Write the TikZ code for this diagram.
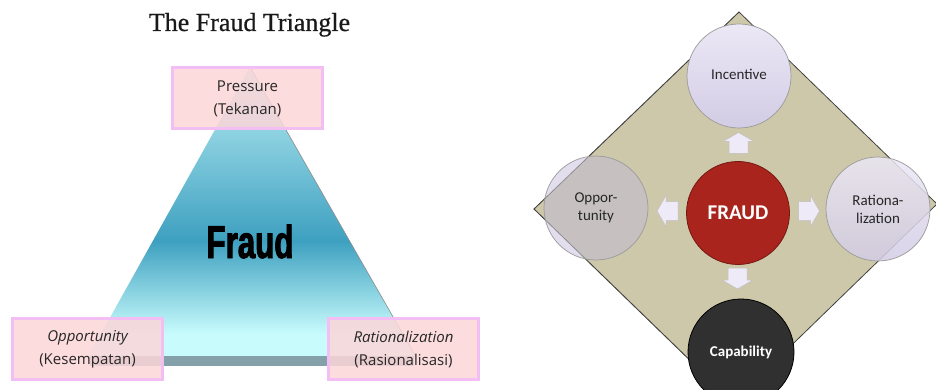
\documentclass[tikz,border=0pt]{standalone}
\usepackage{fontspec}
\usepackage{graphicx}
\setmainfont{Liberation Serif}
\newfontfamily\titlefont{Liberation Serif}[FakeBold=0.6]
\newfontfamily\osans{Open Sans}
\newfontfamily\carl{Carlito}
\newfontfamily\heavy{Liberation Sans}[FakeStretch=0.68, FakeBold=2]
\definecolor{boxfill}{RGB}{252,214,216}
\definecolor{boxedge}{RGB}{242,190,244}
\definecolor{tritop}{RGB}{176,232,240}
\definecolor{trimid}{RGB}{62,160,192}
\definecolor{tribot}{RGB}{200,252,252}
\definecolor{basebar}{RGB}{132,160,168}
\definecolor{khaki}{RGB}{206,200,170}
\definecolor{lavtop}{RGB}{236,232,246}
\definecolor{lavbot}{RGB}{210,204,228}
\definecolor{lavout}{RGB}{226,222,238}
\definecolor{oppgray}{RGB}{198,192,192}
\definecolor{fraudred}{RGB}{168,36,28}
\definecolor{capgray}{RGB}{48,48,48}
\definecolor{arrowfill}{RGB}{238,234,248}
\pgfdeclareverticalshading{trishade}{100bp}{color(0bp)=(tribot); color(25bp)=(tribot); color(29bp)=(tribot); color(45bp)=(trimid); color(72bp)=(tritop); color(75bp)=(tritop); color(100bp)=(tritop)}
\begin{document}
\begin{tikzpicture}[x=1pt,y=-1pt,
  labelbox/.style={draw=boxedge, line width=3pt, fill=boxfill, fill opacity=0.85, text opacity=1,
    minimum width=150pt, minimum height=61pt, inner sep=0pt, align=center, text=black!85,
    font=\osans\fontsize{15}{23}\selectfont},
  lavcirc/.style={circle, minimum size=104pt, inner sep=0pt, draw=black!40, line width=0.7pt,
    align=center, font=\carl\fontsize{15}{18}\selectfont, text=black!85},
  barrowsty/.style={fill=arrowfill, draw=black!25, line width=0.5pt},
  pics/barrow/.style={code={\path[barrowsty] (-10.5,-9.5) -- (1.5,-9.5) -- (1.5,-15.5) -- (10.5,0) -- (1.5,15.5) -- (1.5,9.5) -- (-10.5,9.5) -- cycle;}}
]
\useasboundingbox (0,0) rectangle (936,390);
\clip (0,0) rectangle (936,390);
\fill[white] (0,0) rectangle (936,390);

% ---------- left: the fraud triangle ----------
\node[font=\titlefont\fontsize{26}{30}\selectfont, anchor=base, text=black!90] (title) at (249.5,31) {The Fraud Triangle};

\coordinate (apex) at (250,67);
\coordinate (bl) at (88,357);
\coordinate (br) at (416,357);
\shade[shading=trishade] (apex) -- (br) -- (bl) -- cycle;
\draw[black!45, line width=0.6pt] (apex) -- (br);
\fill[basebar] (90,356) rectangle (414,366);

\node[font=\heavy\bfseries\fontsize{46}{46}\selectfont, anchor=base] (fraudword) at (250,258) {Fraud};

\node[labelbox] (press) at (247.5,98.5) {Pressure\\(Tekanan)};
\node[labelbox] (opp) at (87.5,349) {{\itshape Opportunity}\\(Kesempatan)};
\node[labelbox] (rat) at (403.5,349) {{\itshape Rationalization}\\(Rasionalisasi)};

% ---------- right: the fraud diamond ----------
\coordinate (dt) at (739,12);
\coordinate (dr) at (937,204);
\coordinate (db) at (733,402);
\coordinate (dl) at (534,209);
\filldraw[fill=khaki, draw=black!75, line width=0.8pt] (dt) -- (dr) -- (db) -- (dl) -- cycle;

% opportunity circle (partly see-through)
\coordinate (oppctr) at (596,208);
\fill[lavout] (oppctr) circle (52pt);
\begin{scope}
  \clip (dt) -- (dr) -- (db) -- (dl) -- cycle;
  \fill[oppgray] (oppctr) circle (52pt);
\end{scope}
\draw[black!75, line width=0.8pt, opacity=0.45] (dt) -- (dl) -- (db);
\node[lavcirc] (oppc) at (oppctr) {Oppor-\\tunity};

\node[lavcirc, top color=lavtop, bottom color=lavbot, fill opacity=0.85, text opacity=1] (ratc) at (878,209) {Rationa-\\lization};
\node[lavcirc, top color=lavtop, bottom color=lavbot] (incc) at (739,76) {\raisebox{3pt}{Incentive}};

\node[circle, minimum size=103pt, inner sep=0pt, fill=fraudred, draw=fraudred!70!black, line width=0.8pt,
  text=white, font=\carl\bfseries\fontsize{21}{21}\selectfont] (fraudc) at (738,213) {FRAUD};
\node[circle, minimum size=106pt, inner sep=0pt, fill=capgray, draw=black, line width=0.8pt,
  text=white, font=\carl\bfseries\fontsize{15}{15}\selectfont] (capc) at (741,352) {Capability};

\pic[rotate=90] at (738.5,143) {barrow};
\pic[rotate=180] at (667.5,211) {barrow};
\pic at (809,211) {barrow};
\pic[rotate=-90] at (737.5,278.5) {barrow};
\end{tikzpicture}
\end{document}
